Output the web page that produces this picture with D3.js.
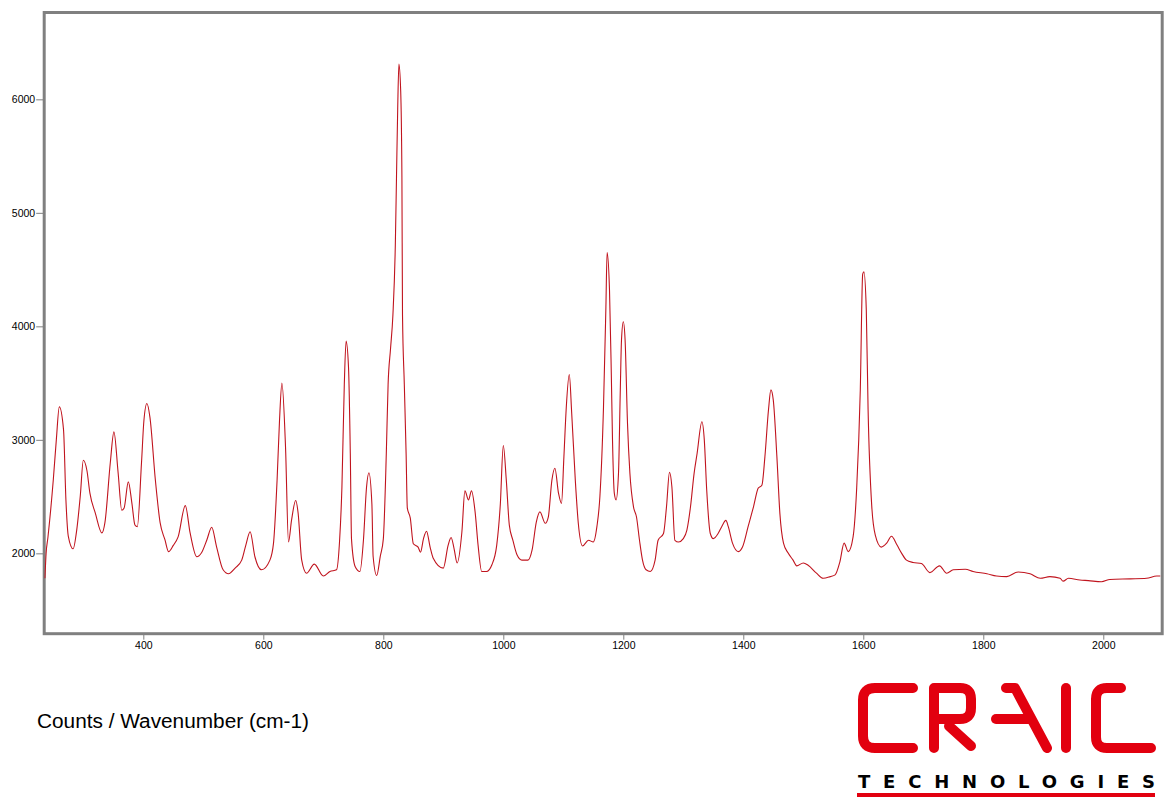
<!DOCTYPE html>
<html>
<head>
<meta charset="utf-8">
<script src="https://cdn.jsdelivr.net/npm/d3@7"></script>
<style>
  html, body { margin: 0; padding: 0; background: #ffffff; }
  svg { display: block; }
</style>
</head>
<body>
<svg id="chart" width="1173" height="811"></svg>
<script>
// ---- Data ----
const wavenumber = [
  236,238,241,250,255,260,267,271,275,283,289,295,300,306,311,320,331,336,345,351,
  358,364,368,375,381,386,390,397,401,406,411,420,428,436,442,450,458,470,478,489,
  497,506,514,522,533,542,553,564,571,578,586,597,611,617,623,627,631,637,642,647,
  654,658,664,672,685,700,711,722,727,731,735,738,742,745,747,753,761,767,772,776,
  781,783,789,795,800,805,808,812,816,820,822,824,826,829,831,832,835,838,840,845,
  850,858,862,867,872,878,883,900,908,913,918,923,931,936,942,947,953,958,964,972,
  981,989,995,1000,1005,1010,1016,1023,1031,1041,1048,1055,1061,1070,1075,1081,1086,1092,1097,1101,
  1105,1110,1114,1120,1125,1132,1142,1150,1156,1161,1167,1171,1173,1177,1180,1182,1185,1188,1192,1195,
  1197,1200,1203,1207,1211,1217,1222,1227,1232,1238,1245,1253,1258,1267,1272,1277,1281,1286,1292,1300,
  1306,1312,1318,1323,1331,1335,1339,1345,1350,1358,1364,1371,1375,1382,1392,1399,1408,1417,1425,1431,
  1436,1442,1446,1450,1456,1461,1467,1475,1483,1489,1500,1508,1522,1533,1545,1553,1561,1568,1575,1583,
  1589,1595,1599,1601,1605,1608,1614,1620,1630,1639,1647,1656,1664,1672,1683,1697,1711,1727,1739,1750,
  1770,1783,1806,1822,1839,1858,1878,1895,1911,1928,1933,1942,1961,1975,1997,2011,2045,2072,2089,2095
];
const counts = [
  1780,2000,2140,2650,3000,3290,3090,2470,2150,2040,2205,2510,2820,2730,2530,2355,2180,2270,2800,3070,
  2710,2380,2400,2630,2440,2250,2235,2800,3170,3320,3200,2650,2270,2120,2015,2070,2145,2420,2180,1970,
  2005,2120,2230,2060,1855,1820,1870,1940,2075,2190,1970,1855,1940,2090,2650,3170,3500,2940,2100,2290,
  2465,2355,1940,1825,1905,1800,1840,1855,2100,2580,3490,3870,3640,2880,2125,1885,1840,2125,2580,2710,
  2430,1975,1805,1975,2125,2880,3490,3800,4100,4710,5320,5920,6310,6070,5320,4100,3490,2880,2400,2310,
  2085,2055,2010,2130,2195,2055,1960,1870,2070,2140,2040,1915,2190,2550,2470,2550,2365,2070,1840,1840,
  1900,2070,2430,2950,2645,2250,2115,1985,1940,1940,2030,2275,2365,2265,2320,2645,2750,2530,2440,2850,
  3290,3575,3235,2645,2265,2065,2115,2100,2235,2500,3290,4170,4650,4320,3585,3000,2530,2470,2705,3440,
  3880,4040,3880,3145,2705,2410,2320,2115,1940,1855,1840,1940,2115,2175,2410,2715,2585,2115,2100,2130,
  2205,2410,2705,2880,3160,3000,2560,2175,2130,2175,2235,2290,2235,2090,2015,2060,2235,2410,2575,2600,
  2850,3265,3440,3350,2850,2350,2090,2000,1940,1890,1915,1895,1825,1780,1795,1810,1925,2090,2015,2145,
  2575,3440,4460,4480,4145,3265,2425,2160,2055,2090,2150,2075,2000,1940,1920,1910,1830,1890,1825,1855,
  1860,1840,1820,1800,1795,1835,1820,1780,1795,1780,1755,1780,1765,1760,1750,1770,1775,1780,1800,1800
];
const yTickValues = [2000, 3000, 4000, 5000, 6000];
const xTickValues = [400, 600, 800, 1000, 1200, 1400, 1600, 1800, 2000];
const xDomain = [234.8, 2098.2];
const yDomain = [1292, 6765];
const axisTitle = "Counts / Wavenumber (cm-1)";
const logoWord = "TECHNOLOGIES";

// ---- Layout ----
const frame = { left: 44.2, top: 12.5, right: 1162.2, bottom: 633.7 };
const lineColor = "#c0141e";
const frameColor = "#808080";
const logoRed = "#e2000f";

const svg = d3.select("#chart");
svg.append("rect").attr("width", 1173).attr("height", 811).attr("fill", "#ffffff");

const x = d3.scaleLinear().domain(xDomain).range([frame.left, frame.right]);
const y = d3.scaleLinear().domain(yDomain).range([frame.bottom, frame.top]);

// clip for the spectrum
svg.append("clipPath").attr("id", "plotclip")
  .append("rect")
  .attr("x", frame.left).attr("y", frame.top)
  .attr("width", frame.right - frame.left).attr("height", frame.bottom - frame.top);

// axes (ticks & labels)
const xAxis = d3.axisBottom(x).tickValues(xTickValues).tickSize(6).tickPadding(2).tickFormat(d3.format("d"));
const yAxis = d3.axisLeft(y).tickValues(yTickValues).tickSize(7).tickPadding(1).tickFormat(d3.format("d"));

const gx = svg.append("g").attr("transform", `translate(0,${frame.bottom})`).call(xAxis);
const gy = svg.append("g").attr("transform", `translate(${frame.left - 1},0)`).call(yAxis);
[gx, gy].forEach(g => {
  g.select(".domain").remove();
  g.selectAll(".tick line").attr("stroke", frameColor).attr("stroke-width", 1);
  g.selectAll(".tick text")
    .attr("fill", "#000")
    .style("font-family", "'Liberation Sans', Arial, sans-serif")
    .style("font-size", "10.5px");
});

// frame
svg.append("rect")
  .attr("x", frame.left).attr("y", frame.top)
  .attr("width", frame.right - frame.left).attr("height", frame.bottom - frame.top)
  .attr("fill", "none").attr("stroke", frameColor).attr("stroke-width", 3);

// spectrum line (drawn above the frame, like the reference)
const pts = wavenumber.map((w, i) => [w, counts[i]]);
const line = d3.line()
  .x(d => x(d[0]))
  .y(d => y(d[1]))
  .curve(d3.curveMonotoneX);
svg.append("path")
  .datum(pts)
  .attr("clip-path", "url(#plotclip)")
  .attr("fill", "none")
  .attr("stroke", lineColor)
  .attr("stroke-width", 1.1)
  .attr("stroke-linejoin", "round")
  .attr("d", line);

// axis title
svg.append("text")
  .attr("x", 37).attr("y", 728)
  .attr("textLength", 272).attr("lengthAdjust", "spacingAndGlyphs")
  .style("font-family", "'Liberation Sans', Arial, sans-serif")
  .style("font-size", "20px")
  .attr("fill", "#000")
  .text(axisTitle);

// ---- Logo ----
const logo = svg.append("g")
  .attr("fill", "none")
  .attr("stroke", logoRed)
  .attr("stroke-width", 10)
  .attr("stroke-linecap", "round")
  .attr("stroke-linejoin", "round");
const logoPaths = [
  // C
  "M 913 688 L 875 688 Q 863 688 863 700 L 863 736 Q 863 748 875 748 L 913 748",
  // R
  "M 934 748 L 934 688 L 960 688 Q 971 688 971 699 L 971 708 Q 971 719 960 719 L 936 719",
  "M 949 726 L 971 746",
  // A
  "M 1006 688 L 1015 688 L 1047 748",
  "M 996 719 L 1029 719",
  // I
  "M 1066 688 L 1066 748",
  // C
  "M 1121 688 L 1107 688 Q 1096 688 1096 699 L 1096 737 Q 1096 748 1107 748 L 1151 748"
];
logoPaths.forEach(p => logo.append("path").attr("d", p));

svg.append("text")
  .attr("x", 858).attr("y", 788)
  .attr("textLength", 297).attr("lengthAdjust", "spacing")
  .style("font-family", "'DejaVu Sans', sans-serif")
  .style("font-weight", "700")
  .style("font-size", "18px")
  .attr("fill", "#000")
  .text(logoWord);

svg.append("rect")
  .attr("x", 857).attr("y", 793).attr("width", 298).attr("height", 4)
  .attr("fill", logoRed);
</script>
</body>
</html>
